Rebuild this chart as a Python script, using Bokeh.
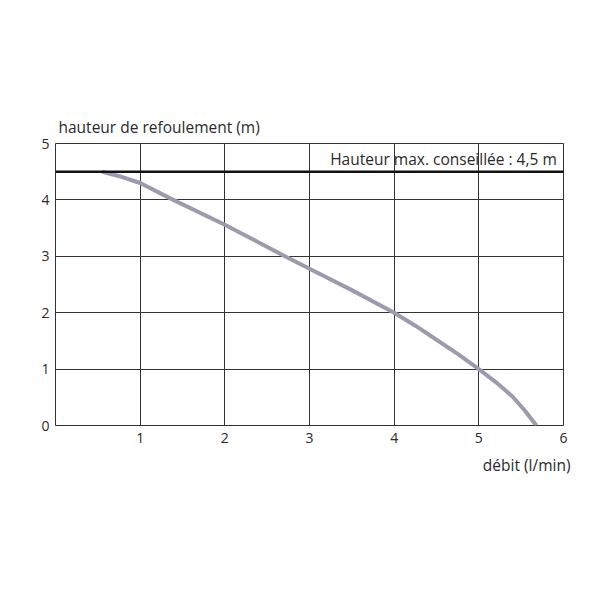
from bokeh.embed import file_html
from bokeh.models import ColumnDataSource, FixedTicker, Label, Span, Title
from bokeh.plotting import figure
from bokeh.resources import INLINE

# courbe debit / hauteur
debit = [0.55, 0.78, 1.0, 1.39, 2.0, 2.71, 3.0, 3.5, 4.0, 4.25, 4.5, 4.75, 5.0, 5.2, 5.4, 5.54, 5.68]
hauteur = [4.5, 4.41, 4.3, 4.0, 3.56, 3.0, 2.78, 2.4, 2.0, 1.77, 1.52, 1.27, 1.0, 0.77, 0.51, 0.27, 0.0]

x_ticks = [1, 2, 3, 4, 5, 6]
y_ticks = [0, 1, 2, 3, 4, 5]
grid_x = [0, 1, 2, 3, 4, 5, 6]
hauteur_max = 4.5

FONT = "Open Sans"
TXT = "#2a2a2a"
FS = "15.5px"

src = ColumnDataSource(data=dict(x=debit, y=hauteur))

p = figure(
    width=584, height=584,
    x_range=(0, 6), y_range=(0, 5),
    toolbar_location=None, output_backend="svg",
    min_border_left=55, min_border_right=21,
    min_border_top=143, min_border_bottom=159,
)
p.outline_line_color = "#333333"
p.outline_line_width = 1

p.xgrid.ticker = FixedTicker(ticks=grid_x)
p.ygrid.ticker = FixedTicker(ticks=y_ticks)
for g in (p.xgrid, p.ygrid):
    g.grid_line_color = "#333333"
    g.grid_line_alpha = 1
    g.grid_line_width = 1

p.xaxis.ticker = FixedTicker(ticks=x_ticks)
p.yaxis.ticker = FixedTicker(ticks=y_ticks)
for ax in (p.xaxis, p.yaxis):
    ax.axis_line_color = None
    ax.major_tick_line_color = None
    ax.minor_tick_line_color = None
    ax.major_tick_out = 0
    ax.major_tick_in = 0
    ax.minor_tick_out = 0
    ax.major_label_text_font = FONT
    ax.major_label_text_font_size = "14px"
    ax.major_label_text_color = TXT
p.xaxis.major_label_standoff = 7
p.yaxis.major_label_standoff = 6

p.add_layout(Span(location=hauteur_max, dimension="width",
                  line_color="#111111", line_width=2.5))

p.line("x", "y", source=src, line_color="#9e9aad", line_width=4,
       line_join="round")

p.add_layout(Label(x=5.92, y=4.73, text="Hauteur max. conseillée : 4,5 m",
                   text_align="right", text_baseline="middle",
                   text_font=FONT, text_font_size=FS, text_color=TXT))

p.add_layout(Title(text="hauteur de refoulement (m)", align="left", offset=3,
                   standoff=12, text_font=FONT, text_font_size=FS,
                   text_font_style="normal", text_color=TXT), "above")
p.add_layout(Title(text="débit (l/min)", align="right", offset=-7,
                   standoff=12, text_font=FONT, text_font_size=FS,
                   text_font_style="normal", text_color=TXT), "below")

open("out.html", "w").write(file_html(p, INLINE))
